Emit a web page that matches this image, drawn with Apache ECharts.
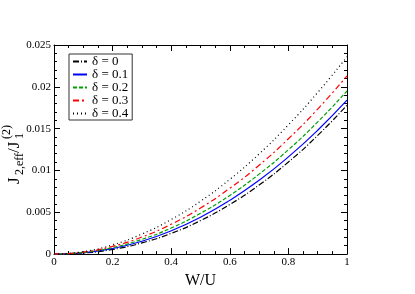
<!DOCTYPE html>
<html><head><meta charset="utf-8">
<script src="https://cdn.jsdelivr.net/npm/echarts@6/dist/echarts.min.js"></script>
<style>html,body{margin:0;padding:0;background:#fff;}#c{width:415px;height:294px;}</style>
</head><body><div id="c"></div>
<script>
var wValues = [0, 0.1, 0.2, 0.3, 0.4, 0.5, 0.6, 0.7, 0.8, 0.9, 1.0];
var seriesNames = ['δ = 0', 'δ = 0.1', 'δ = 0.2', 'δ = 0.3', 'δ = 0.4'];
var d0  = [0, 0.000126, 0.000557, 0.00134, 0.00248, 0.00401, 0.00593, 0.00826, 0.01101, 0.01419, 0.0178];
var d01 = [0, 0.000160, 0.000668, 0.00154, 0.00279, 0.00441, 0.00643, 0.00882, 0.01162, 0.01481, 0.0184];
var d02 = [0, 0.000195, 0.000780, 0.00176, 0.00312, 0.00488, 0.00702, 0.00956, 0.01248, 0.01580, 0.0195];
var d03 = [0, 0.000239, 0.000925, 0.00204, 0.00357, 0.00551, 0.00787, 0.01062, 0.01379, 0.01734, 0.0213];
var d04 = [0, 0.000297, 0.00111, 0.00240, 0.00414, 0.00632, 0.00894, 0.01198, 0.01545, 0.01932, 0.0236];
var allData = [d0, d01, d02, d03, d04];
var colors = ['#000000', '#0000ff', '#00a000', '#ff0000', '#000000'];
var dashes = [[6,2,1,2], 'solid', [4,2], [6,3,2,3], [1,3]];

var FONT = '"Liberation Serif", "DejaVu Serif", serif';
var chart = echarts.init(document.getElementById('c'), null, {renderer:'canvas'});

function pairs(arr){ return wValues.map(function(w,i){ return [w, arr[i]]; }); }

var series = allData.map(function(arr, k){
  return {
    name: seriesNames[k], type:'line', data: pairs(arr), smooth: true,
    symbol:'none', showSymbol:false, xAxisIndex:0, yAxisIndex:0,
    lineStyle:{color: colors[k], width: 1.2, type: dashes[k]},
    itemStyle:{color: colors[k]}
  };
});

function axisBase(extra, minorSplit){
  return Object.assign({
    axisLine:{show:true, onZero:false, lineStyle:{color:'#000', width:1}},
    axisTick:{show:true, inside:true, length:6, lineStyle:{color:'#000'}},
    minorTick:{show:true, splitNumber:minorSplit, length:3, lineStyle:{color:'#000'}},
    splitLine:{show:false}
  }, extra);
}

function rt(text, x, y, size){
  return {type:'text', x:x, y:y, rotation:Math.PI/2,
    style:{text:text, fontFamily:FONT, fontSize:size, fill:'#000', align:'left', verticalAlign:'middle'}};
}

var option = {
  animation:false,
  backgroundColor:'#fff',
  grid:{left:54, right:68, top:45, bottom:37, containLabel:false},
  legend:{
    orient:'vertical', left:69, top:54, data: seriesNames,
    borderColor:'#333', borderWidth:1, padding:[1,4,0,3],
    itemWidth:14, itemHeight:10, itemGap:0,
    itemStyle:{opacity:0},
    textStyle:{fontFamily:FONT, fontSize:13, lineHeight:13, color:'#000'}
  },
  xAxis:[
    axisBase({type:'value', min:0, max:1, interval:0.2,
      name:'W/U', nameLocation:'middle', nameGap:13,
      nameTextStyle:{fontFamily:FONT, fontSize:16, color:'#000'},
      axisLabel:{fontFamily:FONT, fontSize:11, color:'#000', margin:3,
        formatter:function(v){ return String(+v.toFixed(2)); }}}, 4),
    axisBase({type:'value', position:'top', min:0, max:1, interval:0.2,
      axisLabel:{show:false}}, 4)
  ],
  yAxis:[
    axisBase({type:'value', min:0, max:0.025, interval:0.005,
      axisLabel:{fontFamily:FONT, fontSize:11, color:'#000', margin:3,
        formatter:function(v){ return String(+v.toFixed(3)); }}}, 5),
    axisBase({type:'value', position:'right', min:0, max:0.025, interval:0.005,
      axisLabel:{show:false}}, 5)
  ],
  graphic:[
    rt('J', 15, 184, 17),
    rt('2,eff', 20, 175, 12),
    rt('/J', 15, 153, 17),
    rt('1', 20, 139, 12),
    rt('(2)', 7, 139, 12)
  ],
  series: series
};
chart.setOption(option);
</script></body></html>
